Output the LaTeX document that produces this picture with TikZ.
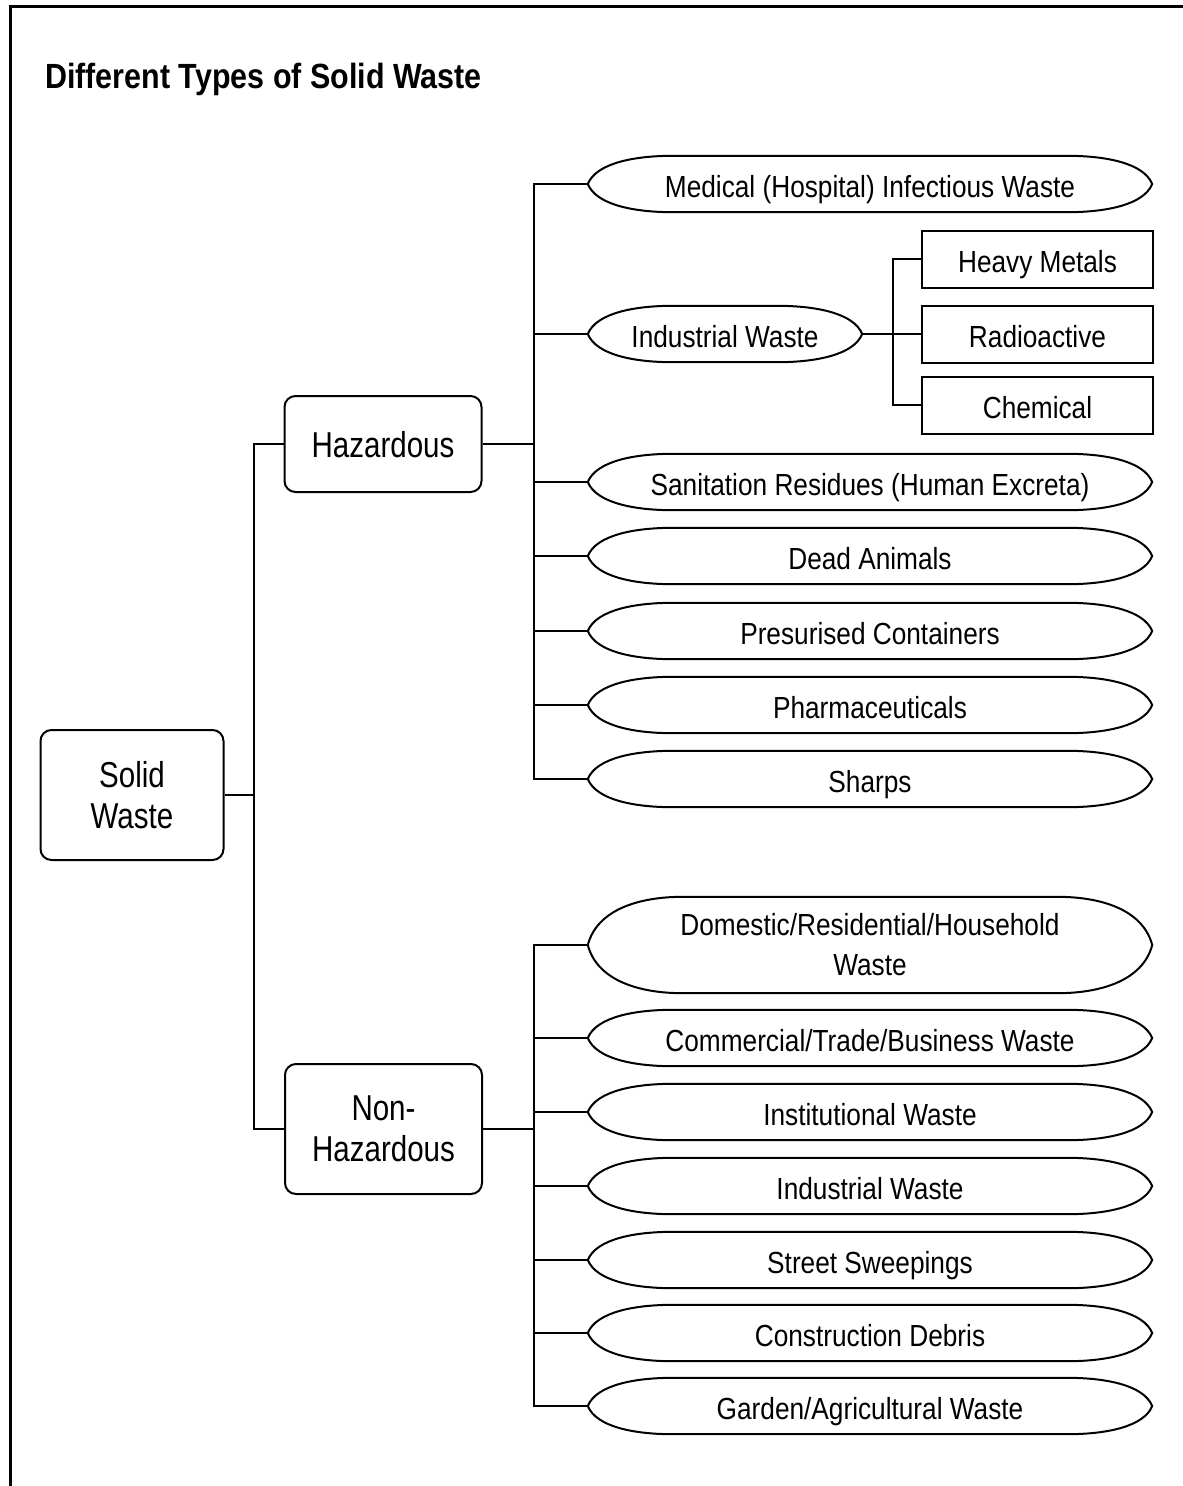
\documentclass[tikz,border=0pt]{standalone}
\usepackage{fontspec}
\setmainfont{Liberation Sans}
\newfontfamily\itemfont[FakeStretch=0.86]{Liberation Sans}
\newfontfamily\boxfont[FakeStretch=0.82]{Liberation Sans}
\newfontfamily\titlefont[FakeStretch=0.87]{Liberation Sans}
\newcommand{\ovalpath}[3]{%
  \draw[shapeline] (#1.west) .. controls +(0.1*#2,-0.75*#3) and +(-0.45*#2,0) .. ([xshift=#2pt]#1.north west)
    -- ([xshift=-#2pt]#1.north east) .. controls +(0.45*#2,0) and +(-0.1*#2,-0.75*#3) .. (#1.east)
    .. controls +(-0.1*#2,0.75*#3) and +(0.45*#2,0) .. ([xshift=-#2pt]#1.south east)
    -- ([xshift=#2pt]#1.south west) .. controls +(-0.45*#2,0) and +(0.1*#2,0.75*#3) .. cycle;}
\begin{document}
\begin{tikzpicture}[x=1pt,y=-1pt,
  conn/.style={line width=2pt},
  shapeline/.style={line width=2pt},
  itemtxt/.style={inner sep=0pt,font=\itemfont\fontsize{30.5}{40}\selectfont},
  oneline/.style={itemtxt,text height=26pt,text depth=0pt},
  ovalnode/.style={oneline,minimum height=56pt},
  wideoval/.style={ovalnode,minimum width=564pt},
  rectnode/.style={oneline,draw,line width=2pt,minimum width=231pt,minimum height=57pt},
  bigbox/.style={draw,line width=2pt,rounded corners=11pt,inner sep=0pt,align=center,
     font=\boxfont\fontsize{36}{41}\selectfont}]
\useasboundingbox (0,0) rectangle (1183,1486);
% frame
\draw[line width=3pt] (10,1486) -- (10,6.5) -- (1183,6.5);
% title
\node[anchor=base west,inner sep=0pt,font=\titlefont\bfseries\fontsize{35}{40}\selectfont] (title) at (45,88) {Different Types of Solid Waste};
% main boxes
\node[bigbox,minimum width=183pt,minimum height=130pt] (solid) at (132,795) {Solid\\Waste};
\node[bigbox,minimum width=197pt,minimum height=96pt,text height=26pt,text depth=0pt] (haz) at (383,444) {Hazardous};
\node[bigbox,minimum width=197pt,minimum height=130pt] (nonhaz) at (383.5,1129) {Non-\\Hazardous};
\coordinate (t1) at (254,0);
\coordinate (t2) at (534,0);
\coordinate (t3) at (893,0);
% hazardous items
\node[wideoval] (med) at (870,184) {Medical (Hospital) Infectious Waste};
\node[ovalnode,minimum width=274pt] (ind) at (725,334) {Industrial Waste};
\node[wideoval] (san) at (870,482) {Sanitation Residues (Human Excreta)};
\node[wideoval] (dead) at (870,556) {Dead Animals};
\node[wideoval] (pres) at (870,631) {Presurised Containers};
\node[wideoval] (pharm) at (870,705) {Pharmaceuticals};
\node[wideoval] (sharps) at (870,779) {Sharps};
\node[rectnode] (heavy) at (1037.5,259) {Heavy Metals};
\node[rectnode] (radio) at (1037.5,334) {Radioactive};
\node[rectnode] (chem) at (1037.5,405) {Chemical};
% non-hazardous items
\node[itemtxt,align=center,minimum width=564pt,minimum height=96pt] (dom) at (870,945) {Domestic/Residential/Household\\Waste};
\node[wideoval] (comm) at (870,1038) {Commercial/Trade/Business Waste};
\node[wideoval] (inst) at (870,1112) {Institutional Waste};
\node[wideoval] (indnh) at (870,1186) {Industrial Waste};
\node[wideoval] (street) at (870,1260) {Street Sweepings};
\node[wideoval] (constr) at (870,1333) {Construction Debris};
\node[wideoval] (garden) at (870,1406) {Garden/Agricultural Waste};
% oval outlines
\foreach \n in {med,ind,san,dead,pres,pharm,sharps,comm,inst,indnh,street,constr,garden}{\ovalpath{\n}{85}{28}}
\ovalpath{dom}{95}{48}
% connectors
\draw[conn] (solid.east) -- (solid.east -| t1);
\draw[conn] (haz.west) -- (haz.west -| t1) -- (nonhaz.west -| t1) -- (nonhaz.west);
\draw[conn] (haz.east) -- (haz.east -| t2);
\draw[conn] (med.west) -- (med.west -| t2) -- (sharps.west -| t2) -- (sharps.west);
\foreach \n in {ind,san,dead,pres,pharm}{\draw[conn] (\n.west) -- (\n.west -| t2);}
\draw[conn] (ind.east) -- (radio.west);
\draw[conn] (heavy.west) -- (heavy.west -| t3) -- (chem.west -| t3) -- (chem.west);
\draw[conn] (nonhaz.east) -- (nonhaz.east -| t2);
\draw[conn] (dom.west) -- (dom.west -| t2) -- (garden.west -| t2) -- (garden.west);
\foreach \n in {comm,inst,indnh,street,constr}{\draw[conn] (\n.west) -- (\n.west -| t2);}
\end{tikzpicture}
\end{document}
